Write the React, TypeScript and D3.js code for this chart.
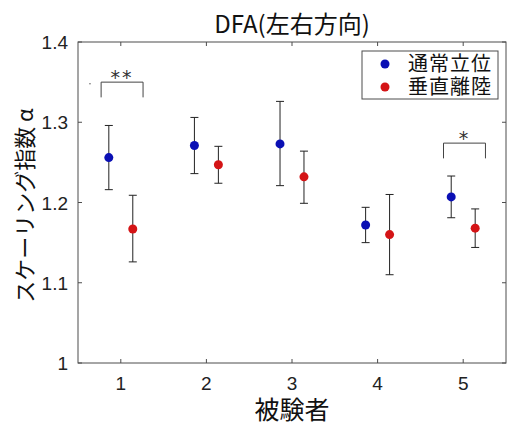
import React from "react";
import * as d3 from "d3";

// 被験者ごとの DFA スケーリング指数（平均と誤差範囲）
const subjects = [1, 2, 3, 4, 5];
const normalMean = [1.256, 1.271, 1.273, 1.172, 1.207];
const normalLo = [1.216, 1.236, 1.221, 1.15, 1.181];
const normalHi = [1.296, 1.306, 1.326, 1.194, 1.233];
const verticalMean = [1.167, 1.247, 1.232, 1.16, 1.168];
const verticalLo = [1.126, 1.224, 1.199, 1.11, 1.144];
const verticalHi = [1.209, 1.27, 1.264, 1.21, 1.192];
const yTicks = [1, 1.1, 1.2, 1.3, 1.4];
const seriesNames = ["通常立位", "垂直離陸"];

// 有意差の括弧
const sigSubjects = [1, 5];
const sigLevels = [1.35, 1.274];
const sigLabels = ["**", "*"];

const W = 508;
const H = 423;
const margin = { left: 78, right: 2, top: 42, bottom: 60 };

const BLUE = "#0a0fb4";
const RED = "#d41416";
const AXIS = "#4d4d4d";
const JP = "'Noto Sans CJK JP', 'Noto Sans', sans-serif";
const NUM = "'Liberation Sans', Arial, sans-serif";

export default function App() {
  const x = d3.scaleLinear().domain([0.5, 5.5]).range([margin.left, W - margin.right]);
  const y = d3.scaleLinear().domain([1, 1.4]).range([H - margin.bottom, margin.top]);
  const [x0, x1] = x.range();
  const [y0, y1] = y.range();
  const off = 0.14;
  const cap = 4;

  const series = [
    { color: BLUE, mean: normalMean, lo: normalLo, hi: normalHi, dx: -off },
    { color: RED, mean: verticalMean, lo: verticalLo, hi: verticalHi, dx: off },
  ];

  return (
    <svg width={W} height={H} style={{ position: "absolute", left: 0, top: 0, background: "#fff" }}>
      {/* title */}
      <text x={(x0 + x1) / 2} y={33} textAnchor="middle" fontFamily={JP} fontSize={24} fill="#111">
        DFA(左右方向)
      </text>

      {/* axes box */}
      <rect x={x0} y={y1} width={x1 - x0} height={y0 - y1} fill="none" stroke={AXIS} strokeWidth={1} />

      {subjects.map((s) => (
        <g key={"xt" + s}>
          <line x1={x(s)} x2={x(s)} y1={y0} y2={y0 - 4} stroke={AXIS} />
          <line x1={x(s)} x2={x(s)} y1={y1} y2={y1 + 4} stroke={AXIS} />
          <text x={x(s)} y={y0 + 27} textAnchor="middle" fontFamily={NUM} fontSize={19} fill="#222">
            {s}
          </text>
        </g>
      ))}
      {yTicks.map((t) => (
        <g key={"yt" + t}>
          <line x1={x0} x2={x0 + 4} y1={y(t)} y2={y(t)} stroke={AXIS} />
          <line x1={x1} x2={x1 - 4} y1={y(t)} y2={y(t)} stroke={AXIS} />
          <text x={x0 - 10} y={y(t) + 7} textAnchor="end" fontFamily={NUM} fontSize={19} fill="#222">
            {d3.format("~g")(t)}
          </text>
        </g>
      ))}

      <text x={(x0 + x1) / 2} y={H - 4} textAnchor="middle" fontFamily={JP} fontSize={25} fill="#111">
        被験者
      </text>
      <text
        transform={`translate(33,${(y0 + y1) / 2 + 3}) rotate(-90)`}
        textAnchor="middle"
        fontFamily={JP}
        fontSize={22}
        fill="#111"
      >
        スケーリング指数 α
      </text>

      {/* error bars and points */}
      {series.map((sr, k) => (
        <g key={"s" + k}>
          {subjects.map((s, i) => {
            const cx = x(s + sr.dx);
            return (
              <g key={i}>
                <line x1={cx} x2={cx} y1={y(sr.lo[i])} y2={y(sr.hi[i])} stroke="#222" strokeWidth={1} />
                <line x1={cx - cap} x2={cx + cap} y1={y(sr.lo[i])} y2={y(sr.lo[i])} stroke="#222" />
                <line x1={cx - cap} x2={cx + cap} y1={y(sr.hi[i])} y2={y(sr.hi[i])} stroke="#222" />
                <circle cx={cx} cy={y(sr.mean[i])} r={4.5} fill={sr.color} />
              </g>
            );
          })}
        </g>
      ))}

      {/* significance brackets */}
      {sigSubjects.map((s, i) => {
        const a = x(s - 0.23);
        const b = x(s + 0.26);
        const top = y(sigLevels[i]);
        const bot = y(sigLevels[i] - 0.019);
        return (
          <g key={"sig" + i}>
            <path d={`M${a},${bot}V${top}H${b}V${bot}`} fill="none" stroke="#444" strokeWidth={1} />
            <text
              x={(a + b) / 2}
              y={top + 2}
              textAnchor="middle"
              fontFamily="'DejaVu Sans', sans-serif"
              fontSize={19}
              letterSpacing={2}
              fill="#333"
            >
              {sigLabels[i]}
            </text>
          </g>
        );
      })}
      <circle cx={x(0.64)} cy={y(1.348)} r={0.8} fill="#666" />

      {/* legend */}
      <g transform="translate(362,51)">
        <rect width={136} height={48} fill="#fff" stroke={AXIS} strokeWidth={1} />
        {seriesNames.map((n, i) => (
          <g key={n} transform={`translate(0,${13 + i * 23})`}>
            <circle cx={23} cy={0} r={4.5} fill={i === 0 ? BLUE : RED} />
            <text x={46} y={7} fontFamily={JP} fontSize={20} fill="#111" letterSpacing={1}>
              {n}
            </text>
          </g>
        ))}
      </g>
    </svg>
  );
}
